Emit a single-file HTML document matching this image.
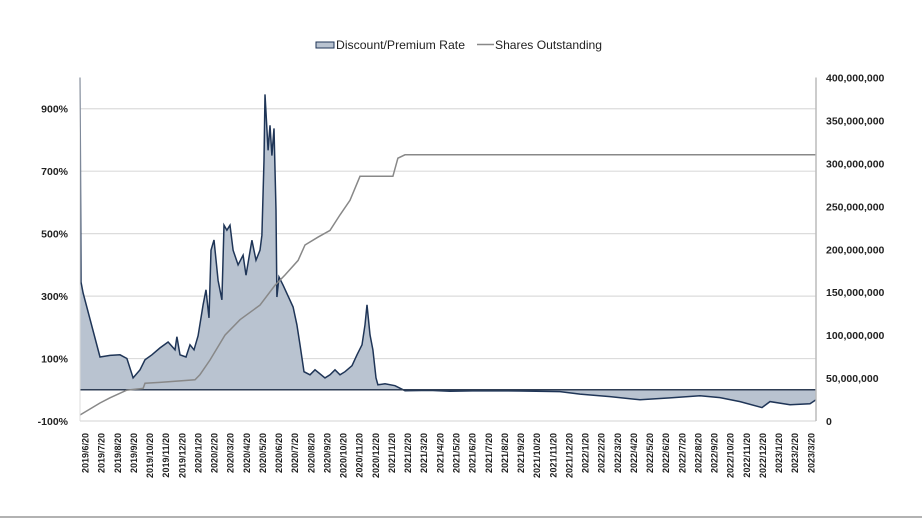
<!DOCTYPE html>
<html><head><meta charset="utf-8"><style>
html,body{margin:0;padding:0;background:#fff;}
svg{display:block;font-family:"Liberation Sans",sans-serif;}
</style></head><body>
<svg id="chart" width="922" height="518" viewBox="0 0 922 518">
<g id="grid"></g>
<g id="series"></g>
<g id="axes"></g>
<g>
  <rect x="316" y="42" width="18" height="6" fill="#b9c3d0" stroke="#1f3557" stroke-width="1"/>
  <text x="336" y="49" font-size="12" fill="#222" textLength="129" lengthAdjust="spacingAndGlyphs">Discount/Premium Rate</text>
  <line x1="477" y1="44.5" x2="494" y2="44.5" stroke="#888" stroke-width="1.5"/>
  <text x="495" y="49" font-size="12" fill="#222" textLength="107" lengthAdjust="spacingAndGlyphs">Shares Outstanding</text>
</g>
<line x1="0" y1="517" x2="922" y2="517" stroke="#999" stroke-width="1.5"/>
</svg>
<script>
const monthLabels = ["2019/6/20","2019/7/20","2019/8/20","2019/9/20","2019/10/20","2019/11/20","2019/12/20","2020/1/20","2020/2/20","2020/3/20","2020/4/20","2020/5/20","2020/6/20","2020/7/20","2020/8/20","2020/9/20","2020/10/20","2020/11/20","2020/12/20","2021/1/20","2021/2/20","2021/3/20","2021/4/20","2021/5/20","2021/6/20","2021/7/20","2021/8/20","2021/9/20","2021/10/20","2021/11/20","2021/12/20","2022/1/20","2022/2/20","2022/3/20","2022/4/20","2022/5/20","2022/6/20","2022/7/20","2022/8/20","2022/9/20","2022/10/20","2022/11/20","2022/12/20","2023/1/20","2023/2/20","2023/3/20"];
const leftTicks = [-100,100,300,500,700,900];
const rightTicks = [0,50,100,150,200,250,300,350,400];
// discount/premium rate: month offset from 2019/6/20, value in %
const rateMonths = [-0.31,-0.28,-0.25,-0.12,0.93,1.55,2.17,2.60,2.98,3.41,3.72,4.15,4.65,5.15,5.58,5.70,5.89,6.26,6.51,6.76,7.01,7.32,7.50,7.69,7.81,8.00,8.25,8.49,8.62,8.80,8.99,9.18,9.49,9.80,9.98,10.35,10.60,10.85,10.97,11.10,11.16,11.35,11.47,11.59,11.72,11.84,11.90,12.03,12.28,12.90,13.14,13.33,13.58,13.95,14.26,14.88,15.19,15.50,15.81,16.12,16.55,16.86,17.17,17.36,17.48,17.67,17.85,18.04,18.16,18.60,19.22,19.84,21.39,22.63,24.49,26.97,29.45,30.69,32.55,34.41,36.27,38.13,39.37,40.61,41.97,42.47,43.71,44.95,45.32];
const rateValues = [1000,640,345,310,105,110,112,100,38,64,96,112,134,153,128,170,112,105,144,128,173,272,320,230,447,480,350,288,527,511,527,447,400,431,367,479,415,447,495,735,946,767,847,750,837,575,297,361,335,265,208,144,58,48,64,38,48,64,48,58,77,112,144,208,272,176,128,38,16,19,13,-3,-2,-5,-3,-4,-6,-14,-22,-32,-26,-19,-25,-38,-57,-38,-48,-45,-32];
// shares outstanding, millions
const shareMonths = [-0.31,0.93,1.55,2.60,3.60,3.72,4.65,6.82,7.13,7.75,8.68,9.61,10.85,11.78,12.40,13.21,13.64,14.44,15.19,15.81,16.43,17.05,19.09,19.40,19.84,45.32];
const shareValues = [7,21,27,36,38,44,45,48,54,71,100,118,135,158,170,187,205,214,222,240,257,285,285,306,310,310];

const NS="http://www.w3.org/2000/svg";
const X0=80,X1=816,TOP=77.5,BOT=421;
const xs=m=>85+m*16.13;
const yL=v=>421-(v+100)/1100*(BOT-TOP);
const yR=v=>421-v/400*(BOT-TOP);
function mk(tag,attrs,parent){const e=document.createElementNS(NS,tag);for(const k in attrs)e.setAttribute(k,attrs[k]);parent.appendChild(e);return e;}
const grid=document.getElementById('grid'),axes=document.getElementById('axes'),series=document.getElementById('series');
leftTicks.forEach(t=>{
  const y=yL(t);
  const gl=mk('line',{x1:X0,x2:X1,y1:y,y2:y,stroke:'#dcdcdc','stroke-width':1.2},grid);
  
  
  const tx=mk('text',{x:68,y:y+4,'font-size':10.5,'font-weight':'bold','text-anchor':'end',fill:'#222'},axes);
  tx.textContent=t+'%';
  
  
});
rightTicks.forEach(t=>{
  const y=yR(t);
  const tx=mk('text',{x:826,y:y+4,'font-size':10.5,'font-weight':'bold',fill:'#222'},axes);
  tx.textContent=t===0?'0':(t*1000000).toLocaleString('en-US');
  
  
});
monthLabels.forEach((l,i)=>{
  const x=xs(i);
  const tx=mk('text',{x:0,y:0,'font-size':9,'font-weight':'bold','text-anchor':'end',fill:'#222',transform:`translate(${x+3.5},433) rotate(-90)`},axes);
  tx.textContent=l;
  
  
});
// area
const y0=yL(0);
let d=`M${xs(rateMonths[0])},${y0}`;
rateMonths.forEach((m,i)=>{d+=` L${xs(m).toFixed(1)},${yL(rateValues[i]).toFixed(1)}`;});
d+=` L${xs(rateMonths[rateMonths.length-1])},${y0} Z`;
const area=mk('path',{d:d,fill:'#b9c3d0',stroke:'none'},series);


const line=mk('path',{d:'M'+rateMonths.map((m,i)=>xs(m).toFixed(1)+','+yL(rateValues[i]).toFixed(1)).join(' L'),fill:'none',stroke:'#1f3557','stroke-width':1.5},series);


const base=mk('line',{x1:X0,x2:X1,y1:y0,y2:y0,stroke:'#2f3e55','stroke-width':1.5},series);


const sh=mk('path',{d:'M'+shareMonths.map((m,i)=>xs(m).toFixed(1)+','+yR(shareValues[i]).toFixed(1)).join(' L'),fill:'none',stroke:'#888','stroke-width':1.5},series);


const ra=mk('line',{x1:X1,x2:X1,y1:TOP,y2:BOT,stroke:'#bbb','stroke-width':1.5},axes);


const la=mk('line',{x1:X0,x2:X0,y1:TOP,y2:BOT,stroke:'#ddd','stroke-width':1},axes);


</script>
</body></html>
